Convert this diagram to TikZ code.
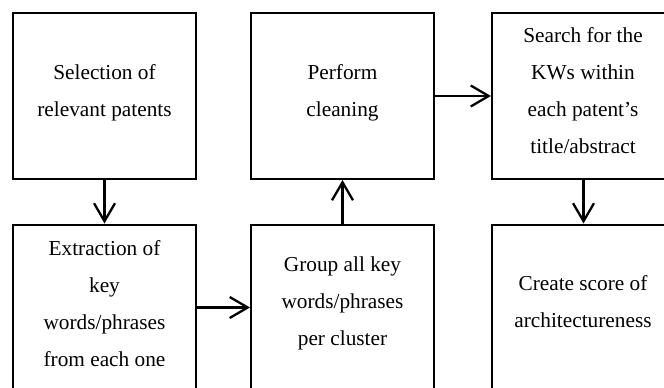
\documentclass[tikz,border=0pt]{standalone}
\usepackage{fontspec}
\setmainfont{Liberation Serif}
\usetikzlibrary{arrows.meta}

% strut with equal height and depth, so a text block centres on its baselines
\newcommand{\eqstrut}{\rule[-16pt]{0pt}{32pt}}

\begin{document}
\begin{tikzpicture}[x=1pt,y=-1pt,
  stepbox/.style={draw=black, line width=2pt, minimum width=183pt,
    minimum height=166pt, inner sep=0pt},
  steptext/.style={align=center, inner sep=0pt,
    font=\fontsize{21.3}{37}\selectfont},
  flow/.style={line width=2.3pt, -{Straight Barb[length=18pt,width=21pt,line width=2.3pt]}}]

\useasboundingbox (0,0) rectangle (664,388);
\clip (0,0) rectangle (664,388);

% boxes
\node[stepbox] (sel)   at (104.5, 96)    {};
\node[stepbox] (clean) at (342.5, 96)    {};
\node[stepbox] (srch)  at (583.5, 96)    {};
\node[stepbox] (extr)  at (104.5, 307.5) {};
\node[stepbox] (grp)   at (342.5, 307.5) {};
\node[stepbox] (score) at (583.5, 307.5) {};

% box texts, centred on the mean of their baselines
\node[steptext] (selT)   at (104.5, 97.5)  {\eqstrut Selection of\\\eqstrut relevant patents};
\node[steptext] (cleanT) at (342.5, 97.5)  {\eqstrut Perform\\\eqstrut cleaning};
\node[steptext] (srchT)  at (583, 97.7)    {\eqstrut Search for the\\\eqstrut KWs within\\\eqstrut each patent’s\\\eqstrut title/abstract};
\node[steptext] (extrT)  at (104.5, 310.5) {\eqstrut Extraction of\\\eqstrut key\\\eqstrut words/phrases\\\eqstrut from each one};
\node[steptext] (grpT)   at (342.5, 308.5) {\eqstrut Group all key\\\eqstrut words/phrases\\\eqstrut per cluster};
\node[steptext] (scoreT) at (583, 309)     {\eqstrut Create score of\\\eqstrut architectureness};

% connectors
\draw[flow] (sel.south)  -- (extr.north);
\draw[flow] (extr.east)  -- (grp.west);
\draw[flow] (grp.north)  -- (clean.south);
\draw[flow] (clean.east) -- (srch.west);
\draw[flow] (srch.south) -- (score.north);

\end{tikzpicture}
\end{document}
